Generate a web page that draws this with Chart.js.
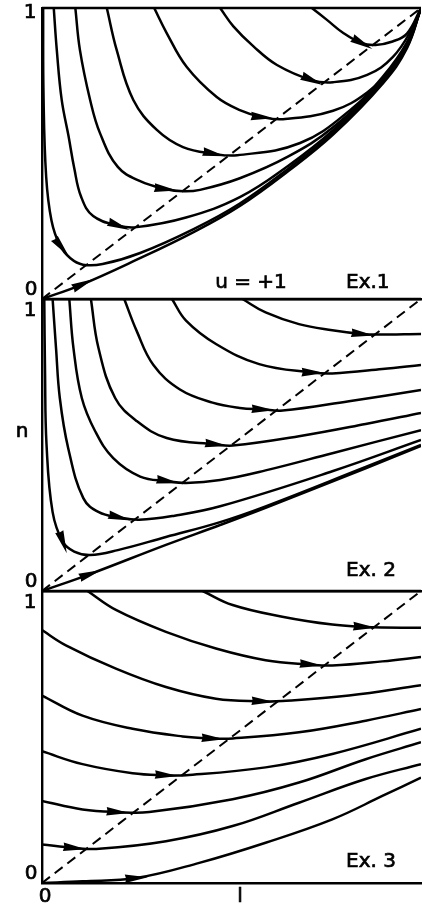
<!DOCTYPE html>
<html>
<head>
<meta charset="utf-8">
<script src="https://cdn.jsdelivr.net/npm/chart.js@4.4.1/dist/chart.umd.min.js"></script>
<style>
  body { margin: 0; background: #fff; }
  #wrap { position: relative; width: 422px; height: 905px; }
  canvas { position: absolute; left: 0; }
</style>
</head>
<body>
<div id="wrap">
  <canvas id="chart-1" width="422" height="310" style="top:0px"></canvas>
  <canvas id="chart-2" width="422" height="310" style="top:290px"></canvas>
  <canvas id="chart-3" width="422" height="325" style="top:580px"></canvas>
</div>
<script>
"use strict";

// axis ranges and labels, same for all three panels
let lMin = 0, lMax = 1;
let nMin = 0, nMax = 1;
let yTickLabels = ["0", "1"];
let xTickLabels = ["0"];
let xTitle = "l";
let yTitle = "n";
let panelNames = ["Ex.1", "Ex. 2", "Ex. 3"];
let ex1Note = "u = +1";

// dashed line n = l
let diagonal = [[0, 0], [1, 1]];

// Ex.1 trajectories [l, n], in direction of motion
let ex1Curves = [
  [[0.712, 1], [0.751, 0.96], [0.795, 0.914], [0.844, 0.879], [0.88, 0.873], [0.925, 0.885], [0.963, 0.912], [1, 1]],
  [[0.47, 1], [0.505, 0.937], [0.558, 0.868], [0.62, 0.804], [0.712, 0.752], [0.768, 0.745], [0.858, 0.77], [0.926, 0.832], [0.979, 0.935], [1, 1]],
  [[0.296, 1], [0.329, 0.914], [0.382, 0.797], [0.461, 0.694], [0.522, 0.649], [0.58, 0.625], [0.636, 0.618], [0.768, 0.647], [0.858, 0.71], [0.926, 0.8], [0.971, 0.9], [1, 1]],
  [[0.171, 1], [0.197, 0.856], [0.241, 0.684], [0.303, 0.581], [0.372, 0.522], [0.453, 0.499], [0.515, 0.494], [0.681, 0.536], [0.813, 0.649], [0.9, 0.765], [0.963, 0.882], [1, 1]],
  [[0.088, 1], [0.1, 0.856], [0.127, 0.684], [0.153, 0.57], [0.2, 0.454], [0.259, 0.405], [0.325, 0.378], [0.373, 0.37], [0.417, 0.375], [0.522, 0.415], [0.65, 0.49], [0.768, 0.59], [0.9, 0.758], [0.963, 0.875], [1, 1]],
  [[0.031, 1], [0.039, 0.856], [0.052, 0.684], [0.07, 0.56], [0.085, 0.45], [0.103, 0.352], [0.135, 0.285], [0.202, 0.252], [0.25, 0.247], [0.38, 0.28], [0.522, 0.35], [0.65, 0.458], [0.768, 0.58], [0.9, 0.752], [0.963, 0.87], [1, 1]],
  [[0.003, 1], [0.004, 0.7], [0.011, 0.42], [0.025, 0.27], [0.047, 0.185], [0.075, 0.14], [0.108, 0.118], [0.16, 0.12], [0.259, 0.158], [0.4, 0.24], [0.522, 0.328], [0.65, 0.448], [0.768, 0.572], [0.9, 0.748], [0.963, 0.866], [1, 1]],
  [[0, 0], [0.1, 0.047], [0.25, 0.135], [0.4, 0.23], [0.522, 0.32], [0.65, 0.44], [0.768, 0.565], [0.9, 0.742], [0.963, 0.862], [1, 1]]
];
let ex1Arrows = [[0.844, 0.879], [0.712, 0.752], [0.58, 0.623], [0.453, 0.499], [0.325, 0.376], [0.202, 0.252], [0.05, 0.178], [0.108, 0.051]];

// Ex.2
let ex2Curves = [
  [[0.529, 1], [0.59, 0.954], [0.678, 0.914], [0.766, 0.893], [0.845, 0.88], [0.88, 0.878], [1, 0.88]],
  [[0.343, 1], [0.38, 0.926], [0.459, 0.846], [0.573, 0.777], [0.713, 0.748], [0.766, 0.745], [0.898, 0.76], [1, 0.774]],
  [[0.217, 1], [0.25, 0.89], [0.294, 0.774], [0.364, 0.69], [0.45, 0.645], [0.522, 0.627], [0.582, 0.622], [0.635, 0.618], [0.81, 0.65], [1, 0.688]],
  [[0.129, 1], [0.149, 0.832], [0.193, 0.661], [0.25, 0.582], [0.329, 0.524], [0.459, 0.502], [0.503, 0.498], [0.678, 0.53], [0.854, 0.572], [1, 0.61]],
  [[0.072, 1], [0.083, 0.832], [0.105, 0.661], [0.14, 0.548], [0.188, 0.455], [0.259, 0.392], [0.331, 0.376], [0.38, 0.37], [0.47, 0.38], [0.59, 0.413], [0.766, 0.472], [1, 0.551]],
  [[0.028, 1], [0.037, 0.832], [0.047, 0.661], [0.069, 0.49], [0.109, 0.318], [0.15, 0.27], [0.204, 0.252], [0.257, 0.244], [0.35, 0.258], [0.47, 0.29], [0.766, 0.41], [1, 0.517]],
  [[0.006, 1], [0.008, 0.75], [0.012, 0.5], [0.028, 0.27], [0.055, 0.168], [0.085, 0.135], [0.127, 0.123], [0.2, 0.14], [0.327, 0.185], [0.47, 0.236], [0.59, 0.29], [0.854, 0.425], [1, 0.5]],
  [[0, 0], [0.127, 0.058], [0.327, 0.158], [0.47, 0.226], [0.59, 0.285], [0.854, 0.42], [1, 0.497]]
];
let ex2Arrows = [[0.845, 0.88], [0.714, 0.748], [0.582, 0.622], [0.459, 0.502], [0.331, 0.376], [0.204, 0.252], [0.055, 0.168], [0.127, 0.057]];

// Ex.3
let ex3Curves = [
  [[0.424, 1], [0.503, 0.952], [0.634, 0.912], [0.766, 0.885], [0.85, 0.877], [0.898, 0.875], [1, 0.874]],
  [[0.12, 1], [0.195, 0.935], [0.327, 0.86], [0.459, 0.803], [0.59, 0.763], [0.709, 0.748], [0.766, 0.745], [0.898, 0.759], [1, 0.774]],
  [[0, 0.866], [0.063, 0.814], [0.195, 0.734], [0.327, 0.671], [0.459, 0.631], [0.582, 0.622], [0.634, 0.623], [0.81, 0.642], [1, 0.677]],
  [[0, 0.642], [0.107, 0.573], [0.239, 0.528], [0.371, 0.502], [0.45, 0.495], [0.503, 0.495], [0.678, 0.516], [0.854, 0.556], [1, 0.596]],
  [[0, 0.451], [0.107, 0.407], [0.239, 0.376], [0.327, 0.369], [0.38, 0.369], [0.59, 0.396], [0.766, 0.442], [1, 0.528]],
  [[0, 0.281], [0.107, 0.252], [0.199, 0.243], [0.283, 0.243], [0.503, 0.287], [0.678, 0.344], [0.854, 0.424], [1, 0.482]],
  [[0, 0.132], [0.085, 0.12], [0.151, 0.117], [0.327, 0.143], [0.503, 0.195], [0.678, 0.275], [0.854, 0.356], [1, 0.407]],
  [[0, 0], [0.107, 0.006], [0.248, 0.017], [0.415, 0.069], [0.59, 0.138], [0.766, 0.218], [0.898, 0.298], [1, 0.361]]
];
let ex3Arrows = [[0.85, 0.877], [0.709, 0.748], [0.582, 0.622], [0.45, 0.495], [0.327, 0.369], [0.199, 0.243], [0.085, 0.12], [0.248, 0.017]];

let font = "20px 'DejaVu Sans'";

function toPoints(list) {
  return list.map(p => ({ x: p[0], y: p[1] }));
}

// slightly heavier text, like the printed figure
function text(ctx, str, x, y, align) {
  ctx.textAlign = align || "center";
  ctx.textBaseline = "middle";
  ctx.fillText(str, x, y);
  ctx.strokeText(str, x, y);
}

// arrow heads sit on the curves and follow the nearest segment
function arrowPlugin(arrows) {
  return {
    id: "arrowHeads",
    afterDatasetsDraw(chart) {
      let ctx = chart.ctx;
      let xs = chart.scales.x, ys = chart.scales.y;
      ctx.save();
      ctx.fillStyle = "#000";
      for (let a of arrows) {
        let px = xs.getPixelForValue(a[0]);
        let py = ys.getPixelForValue(a[1]);
        let bestD = Infinity, dx = 1, dy = 0, qx = px, qy = py;
        chart.data.datasets.forEach((ds, i) => {
          if (ds.label === "diagonal") return;
          let pts = chart.getDatasetMeta(i).data;
          for (let k = 0; k < pts.length - 1; k++) {
            let ax = pts[k].x, ay = pts[k].y, bx = pts[k + 1].x, by = pts[k + 1].y;
            let vx = bx - ax, vy = by - ay;
            let len2 = vx * vx + vy * vy;
            if (len2 === 0) continue;
            let t = ((px - ax) * vx + (py - ay) * vy) / len2;
            t = Math.max(0, Math.min(1, t));
            let cx = ax + t * vx, cy = ay + t * vy;
            let d = (px - cx) * (px - cx) + (py - cy) * (py - cy);
            if (d < bestD) {
              bestD = d;
              let len = Math.sqrt(len2);
              dx = vx / len; dy = vy / len;
              qx = cx; qy = cy;
            }
          }
        });
        let front = 12, back = 11, w = 4.3;
        ctx.beginPath();
        ctx.moveTo(qx + dx * front, qy + dy * front);
        ctx.lineTo(qx - dx * back - dy * w, qy - dy * back + dx * w);
        ctx.lineTo(qx - dx * back * 0.9, qy - dy * back * 0.9);
        ctx.lineTo(qx - dx * back + dy * w, qy - dy * back - dx * w);
        ctx.closePath();
        ctx.fill();
      }
      ctx.restore();
    }
  };
}

// frame top line and all the text of a panel
function textPlugin(index) {
  return {
    id: "panelText",
    afterDraw(chart) {
      let ctx = chart.ctx;
      let area = chart.chartArea;
      ctx.save();
      ctx.strokeStyle = "#000";
      ctx.lineWidth = 2.4;
      ctx.beginPath();
      ctx.moveTo(area.left, area.top);
      ctx.lineTo(area.right, area.top);
      ctx.stroke();

      ctx.fillStyle = "#000";
      ctx.lineWidth = 0.7;
      ctx.font = font;
      let drop = index === 0 ? 5 : 12;
      let lift = [16, 20, 21][index];
      text(ctx, yTickLabels[1], area.left - 12, area.top + drop);
      text(ctx, yTickLabels[0], area.left - 11, area.bottom - 9);
      text(ctx, panelNames[index], 346, area.bottom - lift, "left");
      if (index === 0) {
        text(ctx, ex1Note, 251, area.bottom - lift);
      }
      if (index === 1) {
        text(ctx, yTitle, area.left - 20, chart.scales.y.getPixelForValue(0.545));
      }
      if (index === 2) {
        text(ctx, xTickLabels[0], area.left + 3, area.bottom + 14);
        text(ctx, xTitle, 240, area.bottom + 14);
      }
      ctx.restore();
    }
  };
}

function makePanel(index, curves, arrows, padding) {
  let datasets = curves.map(c => ({
    data: toPoints(c),
    showLine: true,
    borderColor: "#000",
    borderWidth: 2.5,
    pointRadius: 0,
    tension: 0.4,
    fill: false
  }));
  datasets.push({
    label: "diagonal",
    data: toPoints(diagonal),
    showLine: true,
    borderColor: "#000",
    borderWidth: 2,
    borderDash: [10, 6],
    pointRadius: 0,
    fill: false
  });

  let ctx = document.getElementById(`chart-${index + 1}`).getContext("2d");
  return new Chart(ctx, {
    type: "scatter",
    data: { datasets: datasets },
    options: {
      responsive: false,
      animation: false,
      layout: { padding: padding },
      plugins: { legend: { display: false }, tooltip: { enabled: false } },
      scales: {
        x: {
          type: "linear", min: lMin, max: lMax,
          ticks: { display: false },
          grid: { display: false, drawTicks: false },
          border: { display: true, color: "#000", width: 2.4 }
        },
        y: {
          type: "linear", min: nMin, max: nMax,
          ticks: { display: false },
          grid: { display: false, drawTicks: false },
          border: { display: true, color: "#000", width: 2.4 }
        }
      }
    },
    plugins: [arrowPlugin(arrows), textPlugin(index)]
  });
}

makePanel(0, ex1Curves, ex1Arrows, { left: 42, right: 1, top: 8, bottom: 11 });
makePanel(1, ex2Curves, ex2Arrows, { left: 42, right: 1, top: 9, bottom: 9 });
makePanel(2, ex3Curves, ex3Arrows, { left: 42, right: 1, top: 11, bottom: 22 });
</script>
</body>
</html>
